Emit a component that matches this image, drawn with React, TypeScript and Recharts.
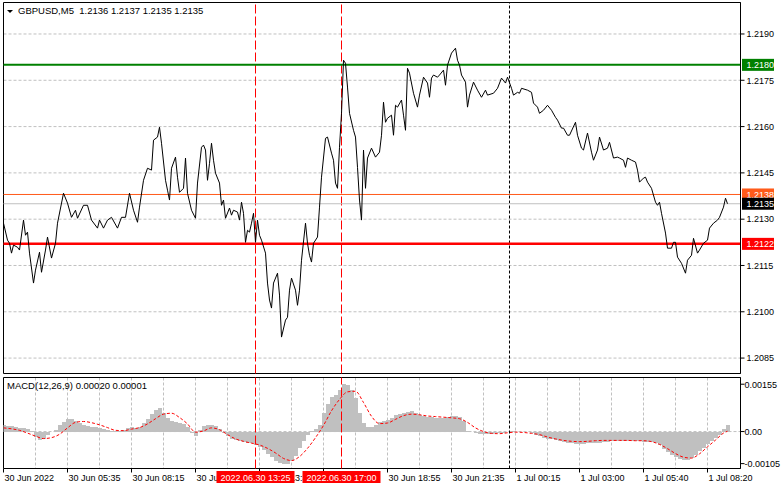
import React from 'react';
import { ComposedChart, LineChart, Line, Bar, XAxis, YAxis, CartesianGrid, ReferenceLine, ReferenceArea } from 'recharts';

const FONT = '"Liberation Sans", Arial, sans-serif';

// [bar index from 30 Jun 02:55 (M5), close]
const closeSeries: [number, number][] = [
  [0, 1.21287], [2, 1.21232], [3, 1.21222], [4, 1.2119], [5, 1.21216], [7, 1.21209], [8, 1.212], [10, 1.21297], [11, 1.21248], [12, 1.21258],
  [13, 1.2119], [15, 1.21093], [16, 1.21135], [18, 1.21193], [19, 1.21128], [21, 1.212], [22, 1.21242], [24, 1.21174], [26, 1.21222], [27, 1.21287],
  [30, 1.21384], [32, 1.21352], [34, 1.21306], [36, 1.21329], [37, 1.21303], [40, 1.21345], [42, 1.21345], [44, 1.21297], [47, 1.21271], [48, 1.21297],
  [50, 1.21271], [52, 1.21297], [54, 1.21306], [57, 1.21271], [59, 1.21306], [61, 1.21306], [63, 1.21384], [65, 1.21329], [67, 1.2129], [68, 1.21339],
  [70, 1.21426], [72, 1.21465], [74, 1.21459], [75, 1.21556], [77, 1.21566], [78, 1.21598], [79, 1.21546], [81, 1.21426], [82, 1.21394], [83, 1.21362],
  [84, 1.21465], [86, 1.21501], [87, 1.21436], [88, 1.21387], [90, 1.214], [91, 1.21498], [92, 1.21384], [94, 1.21329], [96, 1.21303], [97, 1.21417],
  [99, 1.21533], [100, 1.2154], [101, 1.21524], [102, 1.21426], [103, 1.21481], [104, 1.21546], [105, 1.21491], [106, 1.21449], [108, 1.21417], [109, 1.21345],
  [110, 1.21362], [111, 1.21303], [113, 1.21336], [114, 1.21313], [115, 1.21329], [117, 1.21323], [118, 1.21297], [119, 1.21355], [120, 1.21319], [121, 1.21225],
  [122, 1.21264], [123, 1.21258], [124, 1.21287], [125, 1.21319], [126, 1.21225], [127, 1.21297], [128, 1.21248], [129, 1.21232], [131, 1.2119], [132, 1.21093],
  [133, 1.21038], [134, 1.21012], [135, 1.21093], [137, 1.21125], [138, 1.21054], [139, 1.20918], [141, 1.20973], [142, 1.20982], [143, 1.2107], [144, 1.21109],
  [146, 1.2107], [147, 1.21021], [148, 1.2107], [149, 1.21167], [151, 1.21287], [152, 1.21222], [153, 1.21183], [154, 1.21161], [155, 1.21222], [157, 1.21242],
  [158, 1.21339], [159, 1.21436], [161, 1.21562], [162, 1.21566], [164, 1.21514], [165, 1.21491], [166, 1.21417], [167, 1.214], [168, 1.21533], [169, 1.21643],
  [170, 1.21815], [171, 1.21805], [172, 1.21728], [173, 1.21643], [175, 1.21588], [176, 1.21566], [177, 1.21468], [178, 1.21362], [179, 1.21297], [180, 1.21524],
  [181, 1.214], [182, 1.21498], [184, 1.2153], [186, 1.21501], [188, 1.21517], [189, 1.21572], [190, 1.21679], [191, 1.21614], [192, 1.21627], [194, 1.21637],
  [195, 1.21572], [196, 1.21669], [197, 1.21663], [199, 1.21686], [200, 1.21637], [201, 1.21588], [202, 1.21789], [203, 1.21773], [205, 1.21708], [207, 1.21663],
  [208, 1.21702], [210, 1.2176], [212, 1.21741], [213, 1.21695], [214, 1.21757], [215, 1.21767], [217, 1.2176], [218, 1.21767], [220, 1.21783], [221, 1.21734],
  [222, 1.21799], [224, 1.21838], [226, 1.21854], [227, 1.21815], [228, 1.21799], [229, 1.21767], [231, 1.21744], [232, 1.21663], [233, 1.21702], [235, 1.21744],
  [237, 1.21718], [239, 1.21695], [241, 1.21718], [242, 1.21702], [245, 1.21708], [247, 1.21724], [249, 1.21757], [251, 1.21741], [252, 1.2176], [254, 1.21724],
  [255, 1.21702], [257, 1.21711], [258, 1.21708], [259, 1.21724], [262, 1.21718], [264, 1.21711], [265, 1.21676], [267, 1.21663], [268, 1.21643], [270, 1.21653],
  [272, 1.21669], [274, 1.21653], [276, 1.2163], [277, 1.21621], [279, 1.21595], [280, 1.21595], [282, 1.21572], [283, 1.21572], [286, 1.21614], [287, 1.21572],
  [289, 1.2153], [290, 1.21524], [292, 1.21579], [294, 1.21517], [295, 1.21491], [297, 1.21524], [298, 1.21566], [300, 1.21524], [302, 1.2153], [303, 1.21549],
  [305, 1.21498], [307, 1.21501], [308, 1.21498], [310, 1.21491], [311, 1.21468], [312, 1.21498], [314, 1.21491], [316, 1.21485], [317, 1.21459], [318, 1.2142],
  [320, 1.21433], [321, 1.21436], [322, 1.2142], [324, 1.214], [326, 1.21355], [327, 1.21345], [328, 1.21355], [329, 1.21319], [331, 1.21255], [332, 1.21206],
  [334, 1.21206], [335, 1.21225], [336, 1.21225], [337, 1.21177], [339, 1.21157], [341, 1.21125], [342, 1.21167], [344, 1.21183], [345, 1.21238], [347, 1.2119],
  [348, 1.212], [350, 1.21222], [352, 1.21232], [353, 1.21271], [355, 1.21287], [357, 1.21297], [358, 1.21306], [360, 1.21339], [361, 1.21368], [362, 1.2135],
];

// MACD histogram, every 2nd bar, in pips (x 0.0001)
const histPips = [
  2.0, 1.9, 1.7, 1.5, 1.2, 1.0, 0.7, 0.2, -1.8, -2.7, -2.3, -1.0, -0.2, 0.5, 2.0, 3.2, 4.0, 4.1, 3.5, 2.7,
  2.2, 1.8, 1.6, 1.4, 1.2, 0.9, 0.6, 0.3, 0.1, 0.1, 0.5, 1.2, 1.5, 1.3, 1.5, 2.8, 4.0, 5.6, 7.0, 7.8,
  6.0, 4.5, 3.6, 3.2, 2.8, 2.5, 1.5, -0.5, -1.5, 0.5, 1.8, 2.1, 2.2, 1.8, 0.8, -0.5, -1.5, -2.3, -2.8, -3.2,
  -3.5, -3.7, -3.9, -4.5, -5.0, -6.0, -7.2, -8.3, -9.5, -10.3, -10.7, -10.6, -9.8, -8.0, -5.5, -3.0, -1.0, 0.3, 0.7, 2.3,
  6.0, 9.0, 11.2, 12.0, 13.5, 15.5, 15.3, 13.5, 11.0, 6.0, 2.8, 1.5, 1.4, 2.0, 3.0, 3.5, 3.8, 4.5, 5.3, 5.8,
  6.0, 6.5, 6.8, 6.0, 5.3, 5.0, 4.8, 4.7, 4.6, 4.6, 4.6, 4.8, 5.0, 5.2, 4.8, 3.5, 0.2, -0.3, -0.6, -0.7,
  -0.8, -0.7, -0.7, -0.6, -0.5, -0.4, -0.2, 0.1, 0.0, -0.1, -0.2, -0.3, -0.5, -1.0, -1.6, -2.0, -2.3, -2.6, -2.9, -3.2,
  -3.5, -3.7, -3.9, -4.0, -4.0, -4.0, -3.9, -3.8, -3.7, -3.6, -3.5, -3.3, -3.2, -3.1, -3.1, -3.1, -3.1, -3.1, -3.2, -3.2,
  -3.3, -3.4, -3.5, -3.8, -4.5, -5.7, -6.8, -7.6, -8.4, -9.0, -9.4, -9.4, -8.6, -7.6, -6.5, -5.4, -4.2, -3.2, -2.2, -1.0,
  0.8, 2.0,
];

// MACD signal line [bar, pips]
const signalPoints: [number, number][] = [
  [0, 1.2], [4, 0.9], [8, 0.4], [12, -0.5], [16, -1.5], [20, -2.3], [24, -2.0], [28, -0.9], [32, 1.2], [36, 3.0],
  [40, 3.3], [44, 2.9], [48, 2.2], [52, 1.3], [56, 0.4], [60, 0.3], [64, 0.8], [68, 1.3], [72, 2.5], [76, 4.2],
  [80, 5.7], [84, 6.0], [88, 4.6], [92, 2.5], [96, -0.2], [100, 0.2], [104, 1.2], [108, 0.6], [112, -1.0], [116, -2.4],
  [120, -3.2], [124, -3.8], [128, -4.4], [132, -5.5], [136, -7.0], [140, -8.8], [144, -9.5], [148, -8.2], [152, -5.5], [156, -2.0],
  [160, 2.0], [164, 6.8], [168, 10.5], [172, 13.0], [176, 13.2], [180, 9.5], [184, 5.0], [188, 2.6], [192, 2.8], [196, 4.0],
  [200, 5.2], [204, 5.7], [208, 5.5], [212, 5.1], [216, 4.9], [220, 4.7], [224, 4.5], [228, 4.2], [232, 3.0], [236, 1.2],
  [240, 0.0], [244, -0.6], [248, -0.7], [252, -0.4], [256, -0.2], [260, -0.3], [264, -0.6], [268, -1.0], [272, -1.8], [276, -2.4],
  [280, -2.9], [284, -3.2], [288, -3.3], [292, -3.2], [296, -3.0], [300, -2.9], [304, -2.9], [308, -2.9], [312, -2.9], [316, -3.0],
  [320, -3.0], [324, -3.3], [328, -4.2], [332, -5.6], [336, -7.2], [340, -8.4], [344, -8.7], [348, -7.3], [352, -5.0], [356, -2.8],
  [360, -0.5], [362, 0.1],
];

const priceGrid = [1.2085, 1.21, 1.2115, 1.213, 1.2145, 1.216, 1.2175, 1.219];
const priceTags = [
  { value: 1.218, color: '#008000' },
  { value: 1.2122, color: '#ff0000' },
  { value: 1.2138, color: '#ff5a1a' },
  { value: 1.2135, color: '#000000' },
];
const macdTicks = [0.00155, 0, -0.00105];
const timeLabels = [
  '30 Jun 2022', '30 Jun 05:35', '30 Jun 08:15', '30 Jun 10:55', '30 Jun 13:35', '30 Jun 16:15',
  '30 Jun 18:55', '30 Jun 21:35', '1 Jul 00:15', '1 Jul 03:00', '1 Jul 05:40', '1 Jul 08:20',
];
const timeMarks = [
  { bar: 126, text: '2022.06.30 13:25' },
  { bar: 169, text: '2022.06.30 17:00' },
];
const daySeparator = 253;

const X_DOMAIN: [number, number] = [0, 368.5];
const PRICE_DOMAIN: [number, number] = [1.208, 1.22002];
const MACD_DOMAIN: [number, number] = [-0.00121, 0.00177];

const gridBars = Array.from({ length: 22 }, (_, i) => (i + 1) * 16);
const labelBars = timeLabels.map((_, i) => i * 32);

const priceData = closeSeries.map(([bar, close]) => ({ bar, close }));
const signalMap = new Map(signalPoints.map(([b, v]) => [b, v / 10000]));
const macdData = histPips.map((h, k) => ({ bar: k * 2, hist: h / 10000, signal: signalMap.get(k * 2) }));

const PriceTick = ({ x, y, payload }: any) => {
  const v = payload.value as number;
  const tag = priceTags.find((t) => Math.abs(t.value - v) < 1e-9);
  if (tag) {
    return (
      <g>
        <rect x={x - 4.5} y={y - 6} width={32} height={12} fill={tag.color} />
        <text x={x} y={y} dy={3.3} fill="#fff" fontSize={9} fontFamily={FONT}>{v.toFixed(4)}</text>
      </g>
    );
  }
  return (
    <g>
      <line x1={x - 6} x2={x - 2} y1={y} y2={y} stroke="#000" />
      <text x={x} y={y} dy={3.3} fill="#000" fontSize={9} fontFamily={FONT}>{v.toFixed(4)}</text>
    </g>
  );
};

const MacdTick = ({ x, y, payload }: any) => {
  const v = payload.value as number;
  const label = v === 0 ? '0.00' : v.toFixed(5);
  return (
    <g>
      <line x1={x - 6} x2={x - 2} y1={y} y2={y} stroke="#000" />
      <text x={x - 2} y={y} dy={3.3} fill="#000" fontSize={9} fontFamily={FONT}>{label}</text>
    </g>
  );
};

// regular time labels plus the red vertical-line tags (drawn last, on top)
const TimeTick = ({ x, y, payload }: any) => {
  const v = payload.value as number;
  const mark = timeMarks.find((m) => m.bar === v);
  if (mark) {
    return (
      <g>
        <rect x={x - 39} y={y - 1.5} width={78} height={12} fill="#ff0000" />
        <text x={x} y={y} dy={8.3} textAnchor="middle" fill="#fff" fontSize={9} fontFamily={FONT}>{mark.text}</text>
      </g>
    );
  }
  const idx = labelBars.indexOf(v);
  return (
    <g>
      <line x1={x} x2={x} y1={y - 4} y2={y} stroke="#000" />
      <text x={x + 1} y={y} dy={8.3} fill="#000" fontSize={9} fontFamily={FONT}>{timeLabels[idx] ?? ''}</text>
    </g>
  );
};

// histogram column snapped to whole pixels so neighbours touch without seams
const HistColumn = ({ x, y, width, height, fill }: any) => {
  if (!height) return null;
  const top = Math.min(y, y + height);
  const left = Math.round(x);
  return <rect x={left} y={top} width={Math.ceil(width)} height={Math.abs(height)} fill={fill} shapeRendering="crispEdges" />;
};

export default function App() {
  return (
    <div style={{ position: 'absolute', left: 0, top: 0, width: 781, height: 489, background: '#fff', overflow: 'hidden', fontFamily: FONT }}>
      <LineChart width={781} height={374} data={priceData} margin={{ top: 2.5, right: 0, bottom: 0.5, left: 3.5 }} style={{ position: 'absolute', left: 0, top: 0 }}>
        <CartesianGrid stroke="#c0c0c0" strokeDasharray="3 2" horizontalValues={priceGrid} verticalValues={gridBars} />
        <XAxis dataKey="bar" type="number" domain={X_DOMAIN} allowDataOverflow height={0} tick={false} tickLine={false} axisLine={false} />
        <YAxis orientation="right" width={40.5} domain={PRICE_DOMAIN} allowDataOverflow ticks={[...priceGrid, ...priceTags.map((t) => t.value)]}
          interval={0} tickSize={4} tickMargin={2} tickLine={false} axisLine={{ stroke: '#000' }} tick={<PriceTick />} />
        {timeMarks.map((m) => (
          <ReferenceLine key={m.text} x={m.bar} stroke="#ff0000" strokeDasharray="9 3" />
        ))}
        <ReferenceLine x={daySeparator} stroke="#000" strokeDasharray="3 2" />
        <ReferenceLine y={1.2135} stroke="#c0c0c0" />
        <ReferenceLine y={1.2138} stroke="#ff5a1a" />
        <ReferenceLine y={1.218} stroke="#008000" strokeWidth={2} />
        <ReferenceLine y={1.2122} stroke="#ff0000" strokeWidth={2.5} />
        <ReferenceArea x1={X_DOMAIN[0]} x2={X_DOMAIN[1]} y1={PRICE_DOMAIN[0]} y2={PRICE_DOMAIN[1]} fill="none" stroke="#000" ifOverflow="visible" />
        <Line dataKey="close" type="linear" stroke="#000" strokeWidth={1} dot={false} isAnimationActive={false} />
      </LineChart>

      <ComposedChart width={781} height={115} data={macdData} margin={{ top: 3.5, right: 0, bottom: 0, left: 3.5 }} barGap={0} barCategoryGap={0}
        style={{ position: 'absolute', left: 0, top: 374 }}>
        <CartesianGrid stroke="#c0c0c0" strokeDasharray="3 2" horizontalValues={[0]} verticalValues={gridBars} />
        <XAxis dataKey="bar" type="number" domain={X_DOMAIN} allowDataOverflow ticks={[...labelBars, ...timeMarks.map((m) => m.bar)]} interval={0} height={20.5}
          tickSize={4} tickMargin={0} tickLine={false} axisLine={false} tick={<TimeTick />} />
        <YAxis orientation="right" width={40.5} domain={MACD_DOMAIN} allowDataOverflow ticks={macdTicks} interval={0}
          tickSize={4} tickMargin={2} tickLine={false} axisLine={{ stroke: '#000' }} tick={<MacdTick />} />
        <Bar dataKey="hist" fill="#c0c0c0" barSize={4} shape={<HistColumn />} isAnimationActive={false} />
        <Line dataKey="signal" type="monotone" stroke="#ff0000" strokeDasharray="3 2" dot={false} connectNulls isAnimationActive={false} />
        {timeMarks.map((m) => (
          <ReferenceLine key={m.text} x={m.bar} stroke="#ff0000" strokeDasharray="9 3" />
        ))}
        <ReferenceLine x={daySeparator} stroke="#000" strokeDasharray="3 2" />
        <ReferenceArea x1={X_DOMAIN[0]} x2={X_DOMAIN[1]} y1={MACD_DOMAIN[0]} y2={MACD_DOMAIN[1]} fill="none" stroke="#000" ifOverflow="visible" />
      </ComposedChart>

      <div style={{ position: 'absolute', left: 7, top: 10, width: 0, height: 0, borderLeft: '3px solid transparent', borderRight: '3px solid transparent', borderTop: '3px solid #000' }} />
      <div style={{ position: 'absolute', left: 18, top: 5, fontSize: 9.5, lineHeight: '12px', color: '#000', whiteSpace: 'pre' }}>
        GBPUSD,M5  1.2136 1.2137 1.2135 1.2135
      </div>
      <div style={{ position: 'absolute', left: 7, top: 380, fontSize: 9.5, lineHeight: '12px', color: '#000', whiteSpace: 'pre' }}>
        MACD(12,26,9) 0.00020 0.00001
      </div>
    </div>
  );
}
